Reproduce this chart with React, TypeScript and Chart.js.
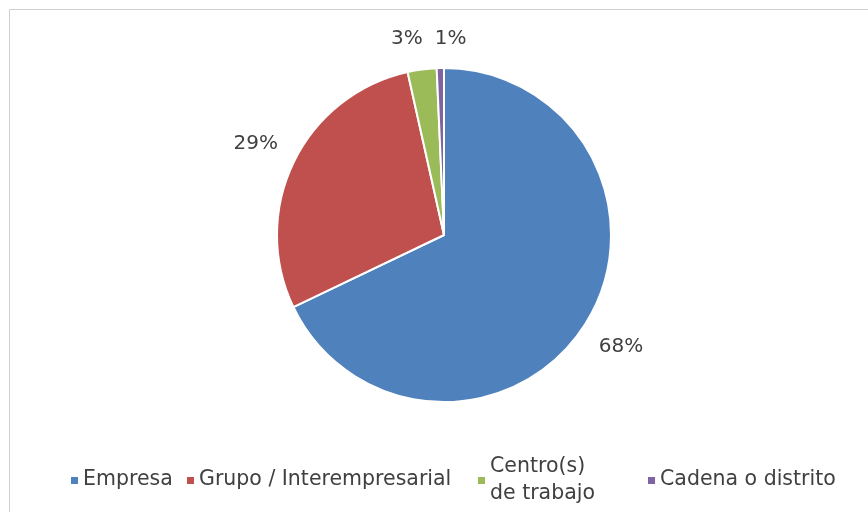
import React, { useEffect, useRef } from "react";
import { Chart, registerables } from "chart.js";

Chart.register(...registerables);

const categories = ["Empresa", "Grupo / Interempresarial", "Centro(s) de trabajo", "Cadena o distrito"];
const legendLines = [["Empresa"], ["Grupo / Interempresarial"], ["Centro(s)", "de trabajo"], ["Cadena o distrito"]];
const values = [67.9, 28.6, 2.8, 0.7];
const colors = ["#4F81BD", "#C0504D", "#9BBB59", "#8064A2"];
const legendStartX = [71, 187, 478, 648];

const FONT = "DejaVu Sans, sans-serif";
const TEXT_COLOR = "#404040";

const framePlugin = {
  id: "frame",
  beforeDraw(chart: any) {
    const ctx = chart.ctx;
    ctx.save();
    ctx.fillStyle = "#ffffff";
    ctx.fillRect(0, 0, chart.width, chart.height);
    ctx.strokeStyle = "#d0d0d0";
    ctx.lineWidth = 1;
    ctx.beginPath();
    ctx.moveTo(9.5, chart.height);
    ctx.lineTo(9.5, 9.5);
    ctx.lineTo(chart.width, 9.5);
    ctx.stroke();
    ctx.restore();
  },
};

const labelPlugin = {
  id: "pieLabels",
  afterDraw(chart: any) {
    const ctx = chart.ctx;
    const meta = chart.getDatasetMeta(0);
    const data = chart.data.datasets[0].data as number[];
    const total = data.reduce((a, b) => a + b, 0);
    ctx.save();
    ctx.font = `20px ${FONT}`;
    ctx.fillStyle = TEXT_COLOR;
    ctx.textAlign = "center";
    ctx.textBaseline = "middle";
    const h = 24;
    const gap = 17;
    const items = meta.data.map((arc: any, i: number) => {
      const p = arc.getProps(["x", "y", "startAngle", "endAngle", "outerRadius"], true);
      const mid = (p.startAngle + p.endAngle) / 2;
      const text = Math.round((data[i] / total) * 100) + "%";
      const w = ctx.measureText(text).width;
      const c = Math.cos(mid), s = Math.sin(mid);
      const ext = Math.abs(c) * w / 2 + Math.abs(s) * h / 2;
      const d = p.outerRadius + gap + ext;
      return { text, w, x: p.x + c * d, y: p.y + s * d };
    });
    // resolve horizontal overlaps between labels at similar height
    for (let iter = 0; iter < 5; iter++) {
      for (let a = 0; a < items.length; a++) {
        for (let b = a + 1; b < items.length; b++) {
          const A = items[a], B = items[b];
          if (Math.abs(A.y - B.y) < h) {
            const need = (A.w + B.w) / 2 + 12;
            const dist = Math.abs(A.x - B.x);
            if (dist < need) {
              const push = (need - dist) / 2;
              if (A.x <= B.x) { A.x -= push; B.x += push; } else { A.x += push; B.x -= push; }
            }
          }
        }
      }
    }
    items.forEach((it: any) => ctx.fillText(it.text, it.x, it.y));
    ctx.restore();
  },
};

const legendPlugin = {
  id: "customLegend",
  afterDraw(chart: any) {
    const ctx = chart.ctx;
    ctx.save();
    ctx.font = `20.5px ${FONT}`;
    ctx.fillStyle = TEXT_COLOR;
    ctx.textBaseline = "middle";
    ctx.textAlign = "left";
    const cy = 480;
    const lineH = 27;
    legendLines.forEach((lines, i) => {
      const x = legendStartX[i];
      ctx.fillStyle = colors[i];
      ctx.fillRect(x, cy - 3, 7, 7);
      ctx.fillStyle = TEXT_COLOR;
      const n = lines.length;
      lines.forEach((ln, j) => {
        const y = cy + (j - (n - 1) / 2) * lineH;
        ctx.fillText(ln, x + 12, y);
      });
    });
    ctx.restore();
  },
};

export default function App() {
  const ref = useRef<HTMLCanvasElement | null>(null);
  useEffect(() => {
    if (!ref.current) return;
    const chart = new Chart(ref.current, {
      type: "pie",
      data: {
        labels: categories,
        datasets: [
          {
            data: values,
            backgroundColor: colors,
            borderColor: "#ffffff",
            borderWidth: 2,
          },
        ],
      },
      options: {
        responsive: false,
        animation: false,
        layout: { padding: { top: 67, bottom: 109, left: 20, right: 0 } },
        plugins: {
          legend: { display: false },
          tooltip: { enabled: false },
        },
      },
      plugins: [framePlugin, labelPlugin, legendPlugin],
    });
    return () => chart.destroy();
  }, []);
  return (
    <div style={{ position: "absolute", left: 0, top: 0, width: 868, height: 512 }}>
      <canvas ref={ref} width={868} height={512} style={{ display: "block" }} />
    </div>
  );
}
